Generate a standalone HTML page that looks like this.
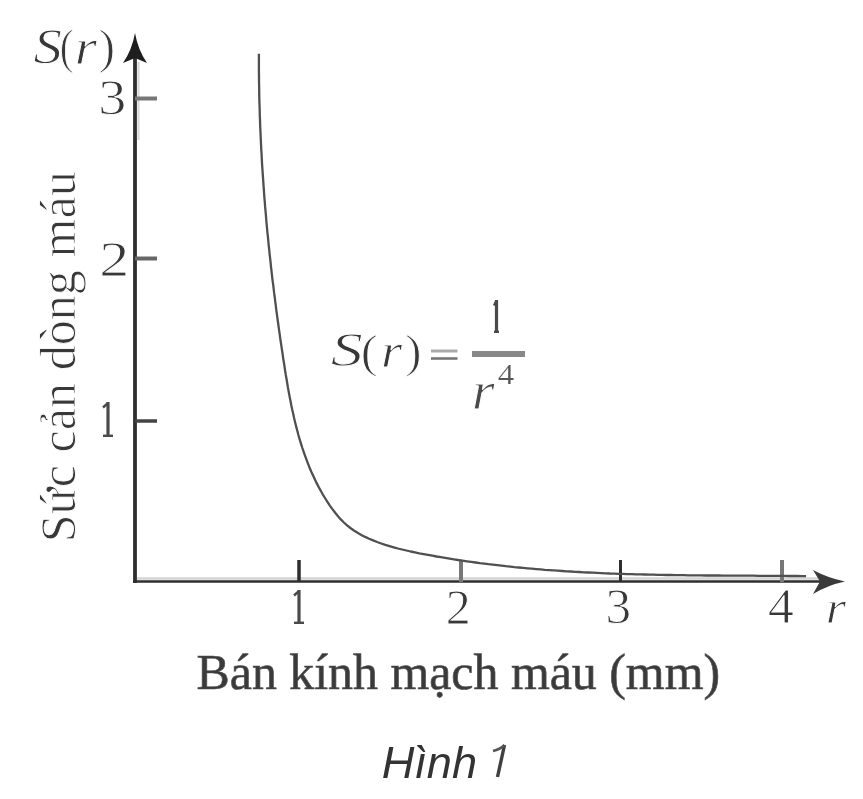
<!DOCTYPE html>
<html><head><meta charset="utf-8">
<style>
html,body{margin:0;padding:0;background:#fff;}
body{width:863px;height:799px;overflow:hidden;}
svg{display:block;filter:blur(0.5px);}
</style></head>
<body>
<svg width="863" height="799" viewBox="0 0 863 799">
<rect width="863" height="799" fill="#fff"/>
<g stroke="#2e2e2e" fill="none">
  <line x1="138.5" y1="62" x2="138.5" y2="140" stroke-width="2" stroke="#d4d4d4"/>
  <line x1="137" y1="578.5" x2="820" y2="578.5" stroke-width="2.5" stroke="#d4d4d4"/>
  <line x1="135" y1="58" x2="135" y2="583" stroke-width="3.8"/>
  <line x1="133" y1="581.5" x2="825" y2="581.5" stroke-width="2.7"/>
  <line x1="135" y1="98.5" x2="157" y2="98.5" stroke-width="4" stroke="#777"/>
  <line x1="135" y1="258.5" x2="157" y2="258.5" stroke-width="4" stroke="#666"/>
  <line x1="135" y1="421" x2="157" y2="421" stroke-width="3.5" stroke="#444"/>
  <line x1="299" y1="560" x2="299" y2="582" stroke-width="3.5"/>
  <line x1="461" y1="560" x2="461" y2="582" stroke-width="4" stroke="#777"/>
  <line x1="620.5" y1="560" x2="620.5" y2="582" stroke-width="3"/>
  <line x1="782" y1="560" x2="782" y2="582" stroke-width="4" stroke="#777"/>
  <line x1="431" y1="351" x2="457.5" y2="351" stroke-width="3" stroke="#aaa"/>
  <line x1="431" y1="358.5" x2="457.5" y2="358.5" stroke-width="2.6" stroke="#777"/>
  <line x1="472" y1="354" x2="525" y2="354" stroke-width="6" stroke="#888"/>
</g>
<path d="M135 33 Q138 50 147 63 L135 58 L123 63 Q132 50 135 33 Z" fill="#1e1e1e"/>
<path d="M845 581.5 Q828 585 813 594 L820 581.5 L813 570 Q828 578 845 581.5 Z" fill="#3a3a3a"/>
<path d="M258.9 53.7 L258.9 58.2 L258.9 62.6 L258.9 67.0 L258.9 71.4 L259.0 75.8 L259.0 80.2 L259.1 84.6 L259.2 89.0 L259.2 93.4 L259.3 97.8 L259.4 102.2 L259.6 106.5 L259.7 110.9 L259.8 115.3 L260.0 119.6 L260.1 124.0 L260.3 128.4 L260.5 132.7 L260.7 137.1 L260.9 141.4 L261.1 145.8 L261.3 150.1 L261.6 154.5 L261.8 158.8 L262.0 163.1 L262.3 167.5 L262.6 171.8 L262.9 176.1 L263.2 180.5 L263.5 184.8 L263.8 189.1 L264.1 193.5 L264.4 197.8 L264.8 202.1 L265.1 206.4 L265.5 210.7 L265.9 215.1 L266.2 219.4 L266.6 223.7 L267.0 228.0 L267.4 232.3 L267.9 236.6 L268.3 241.0 L268.7 245.3 L269.2 249.6 L269.6 253.9 L270.1 258.2 L270.6 262.5 L271.0 266.8 L271.5 271.1 L272.0 275.5 L272.5 279.8 L273.1 284.1 L273.6 288.4 L274.1 292.7 L274.7 297.0 L275.2 301.3 L275.8 305.7 L276.3 310.0 L276.9 314.3 L277.5 318.6 L278.1 323.0 L278.7 327.3 L279.3 331.6 L279.9 335.9 L280.5 340.3 L281.2 344.6 L281.8 348.9 L282.5 353.3 L283.1 357.6 L283.8 362.0 L284.5 366.3 L285.1 370.6 L285.8 375.0 L286.6 379.3 L287.3 383.7 L288.0 388.0 L288.8 392.3 L289.6 396.6 L290.5 401.0 L291.3 405.3 L292.2 409.6 L293.2 413.8 L294.1 418.1 L295.1 422.3 L296.2 426.6 L297.3 430.8 L298.4 435.0 L299.6 439.2 L300.9 443.3 L302.2 447.5 L303.6 451.6 L305.0 455.6 L306.5 459.7 L308.0 463.7 L309.6 467.7 L311.3 471.7 L313.1 475.6 L314.9 479.5 L316.8 483.4 L318.8 487.2 L320.9 491.0 L323.0 494.8 L325.3 498.5 L327.6 502.2 L330.0 505.8 L332.6 509.4 L335.2 512.8 L338.0 516.2 L340.8 519.4 L343.9 522.5 L347.1 525.3 L350.4 528.0 L353.9 530.5 L357.6 532.8 L361.3 534.9 L365.2 536.9 L369.1 538.7 L373.1 540.4 L377.1 542.0 L381.2 543.5 L385.3 544.9 L389.5 546.1 L393.7 547.3 L397.9 548.5 L402.1 549.5 L406.4 550.5 L410.7 551.5 L415.0 552.4 L419.3 553.3 L423.6 554.1 L428.0 554.9 L432.3 555.7 L436.6 556.5 L440.9 557.2 L445.2 557.9 L449.6 558.6 L453.9 559.3 L458.2 560.0 L462.5 560.6 L466.9 561.3 L471.2 561.9 L475.5 562.5 L479.8 563.1 L484.2 563.6 L488.5 564.2 L492.8 564.7 L497.2 565.2 L501.5 565.7 L505.8 566.2 L510.2 566.6 L514.5 567.1 L518.8 567.5 L523.2 567.9 L527.5 568.3 L531.8 568.7 L536.2 569.1 L540.5 569.4 L544.8 569.8 L549.2 570.1 L553.5 570.4 L557.8 570.7 L562.2 571.0 L566.5 571.3 L570.8 571.5 L575.2 571.8 L579.5 572.0 L583.9 572.3 L588.2 572.5 L592.5 572.7 L596.9 572.9 L601.2 573.1 L605.6 573.3 L609.9 573.5 L614.3 573.6 L618.6 573.8 L623.0 573.9 L627.3 574.1 L631.7 574.2 L636.0 574.3 L640.3 574.4 L644.7 574.5 L649.0 574.6 L653.4 574.7 L657.7 574.8 L662.1 574.9 L666.5 575.0 L670.8 575.0 L675.2 575.1 L679.5 575.2 L683.9 575.2 L688.2 575.3 L692.6 575.3 L696.9 575.4 L701.3 575.4 L705.7 575.5 L710.0 575.5 L714.4 575.5 L718.7 575.5 L723.1 575.6 L727.5 575.6 L731.8 575.6 L736.2 575.7 L740.5 575.7 L744.9 575.7 L749.3 575.7 L753.6 575.7 L758.0 575.8 L762.4 575.8 L766.7 575.8 L771.1 575.8 L775.5 575.9 L779.8 575.9 L784.2 575.9 L788.6 576.0 L793.0 576.0 L797.3 576.0 L801.7 576.1 L806.1 576.1" stroke="#505050" stroke-width="2.3" fill="none" stroke-linejoin="round"/>
<text transform="translate(33.43 63.49) scale(1.120 1)" font-family="Liberation Serif" font-size="50.75" font-style="italic" fill="#383838" stroke="#fff" stroke-width="0.9">S</text>
<text transform="translate(59.65 63.35) scale(0.852 1)" font-family="Liberation Serif" font-size="48.33" font-style="normal" fill="#383838" stroke="#fff" stroke-width="0.9">(</text>
<text transform="translate(74.79 64.26) scale(1.100 1)" font-family="Liberation Serif" font-size="51.61" font-style="italic" fill="#383838" stroke="#fff" stroke-width="0.9">r</text>
<text transform="translate(98.50 63.35) scale(1.034 1)" font-family="Liberation Serif" font-size="48.33" font-style="normal" fill="#383838" stroke="#fff" stroke-width="0.9">)</text>
<text transform="translate(98.20 114.49) scale(1.105 1)" font-family="Liberation Serif" font-size="50.75" font-style="normal" fill="#383838" stroke="#fff" stroke-width="0.9">3</text>
<text transform="translate(99.30 276.00) scale(1.165 1)" font-family="Liberation Serif" font-size="51.52" font-style="normal" fill="#383838" stroke="#fff" stroke-width="0.9">2</text>
<g fill="none" stroke="#4a4a4a"><line x1="108" y1="402" x2="108" y2="437" stroke-width="3.2"/><line x1="107.5" y1="403.5" x2="103" y2="407.5" stroke-width="2.4"/><line x1="103" y1="435.8" x2="113" y2="435.8" stroke-width="2.4"/></g>
<g fill="none" stroke="#4a4a4a"><line x1="299" y1="590" x2="299" y2="624" stroke-width="3.2"/><line x1="298.5" y1="591.5" x2="294" y2="595.5" stroke-width="2.4"/><line x1="294" y1="622.8" x2="304" y2="622.8" stroke-width="2.4"/></g>
<text transform="translate(445.75 624.00) scale(0.971 1)" font-family="Liberation Serif" font-size="51.52" font-style="normal" fill="#383838" stroke="#fff" stroke-width="0.9">2</text>
<text transform="translate(605.44 623.49) scale(1.009 1)" font-family="Liberation Serif" font-size="50.75" font-style="normal" fill="#383838" stroke="#fff" stroke-width="0.9">3</text>
<text transform="translate(767.97 623.25) scale(1.017 1)" font-family="Liberation Serif" font-size="50.77" font-style="normal" fill="#383838" stroke="#fff" stroke-width="0.9">4</text>
<text transform="translate(825.81 623.24) scale(1.100 1)" font-family="Liberation Serif" font-size="47.31" font-style="italic" fill="#383838" stroke="#fff" stroke-width="0.9">r</text>
<text transform="translate(330.86 366.02) scale(1.349 1)" font-family="Liberation Serif" font-size="47.61" font-style="italic" fill="#383838" stroke="#fff" stroke-width="0.9">S</text>
<text transform="translate(360.71 366.88) scale(1.090 1)" font-family="Liberation Serif" font-size="46.78" font-style="normal" fill="#383838" stroke="#fff" stroke-width="0.9">(</text>
<text transform="translate(381.05 366.75) scale(1.100 1)" font-family="Liberation Serif" font-size="49.46" font-style="italic" fill="#383838" stroke="#fff" stroke-width="0.9">r</text>
<text transform="translate(405.23 366.88) scale(1.044 1)" font-family="Liberation Serif" font-size="46.78" font-style="normal" fill="#383838" stroke="#fff" stroke-width="0.9">)</text>
<g fill="none" stroke="#4a4a4a"><line x1="496.5" y1="300" x2="496.5" y2="333" stroke-width="3.2"/><line x1="496.0" y1="301.5" x2="494.0" y2="305.5" stroke-width="2.4"/><line x1="494.0" y1="331.8" x2="499.0" y2="331.8" stroke-width="2.4"/></g>
<text transform="translate(471.65 408.77) scale(1.073 1)" font-family="Liberation Serif" font-size="54.84" font-style="italic" fill="#4a4a4a" stroke="#fff" stroke-width="0.9">r</text>
<text transform="translate(497.74 384.15) scale(1.126 1)" font-family="Liberation Serif" font-size="29.23" font-style="normal" fill="#555" stroke="#fff" stroke-width="0.2">4</text>
<text transform="translate(196.50 689.00) scale(0.9780 1)" font-family="Liberation Serif" font-size="51" font-style="normal" fill="#3a3a3a" stroke="#555" stroke-width="0.7">Bán kính mạch máu (mm)</text>
<g transform="translate(75 542.26) rotate(-90)"><text transform="scale(0.9831 1)" font-family="Liberation Serif" font-size="51" fill="#383838" stroke="#fff" stroke-width="0.9">Sức cản dòng máu</text></g>
<text transform="translate(381.64 777.50) scale(1.0046 1)" font-family="Liberation Sans" font-size="45" font-style="italic" fill="#333">Hình</text><path d="M504.5 745 L497.5 777" stroke="#404040" stroke-width="3.4" fill="none"/><path d="M504.5 745 Q500 749.5 493 751" stroke="#555" stroke-width="2.6" fill="none"/>
</svg>
</body></html>
